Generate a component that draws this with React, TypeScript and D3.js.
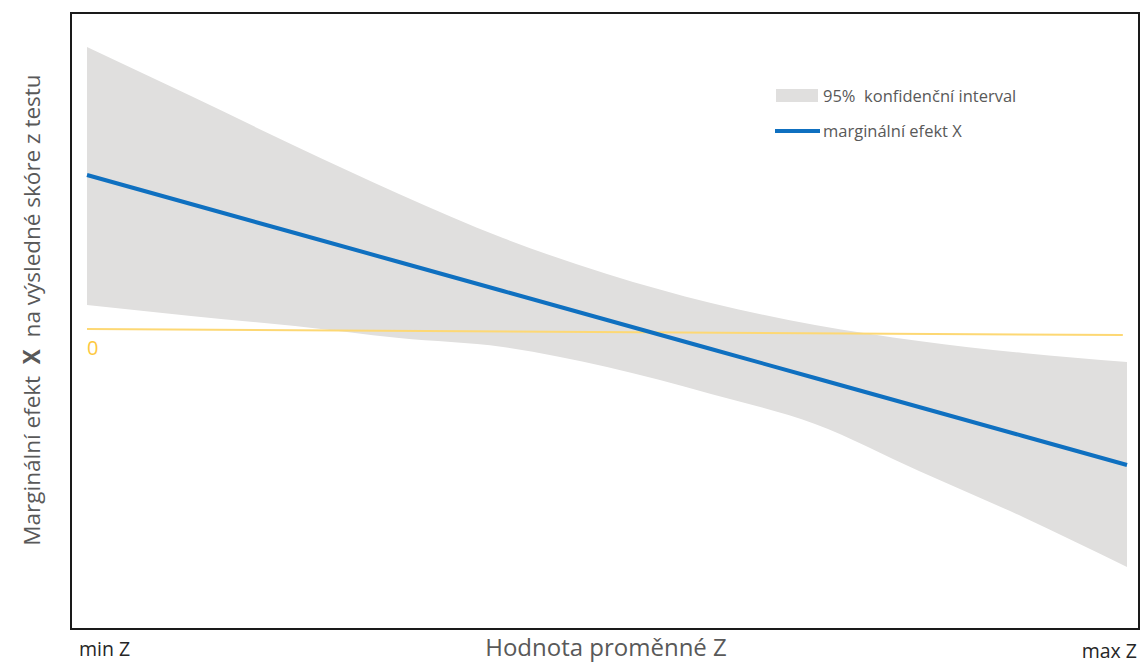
import React from "react";
import * as d3 from "d3";

// Z values (0 = min Z, 1 = max Z)
const zValues = [0, 0.1, 0.2, 0.3, 0.4, 0.5, 0.6, 0.7, 0.8, 0.9, 1.0];
// 95% confidence interval bounds
const ciUpper = [2.85, 2.36, 1.86, 1.38, 0.94, 0.58, 0.29, 0.07, -0.09, -0.21, -0.30];
const ciLower = [0.27, 0.16, 0.06, -0.06, -0.15, -0.35, -0.62, -0.92, -1.39, -1.85, -2.35];
// marginal effect of X
const marginalEffect = [1.57, 1.28, 0.99, 0.70, 0.41, 0.12, -0.17, -0.46, -0.75, -1.04, -1.33];
// zero reference line (as drawn, slightly tilted)
const zeroLineZ = [0, 0.996];
const zeroLineY = [0.03, -0.03];

const xTickLabels = ["min Z", "max Z"];
const xTitle = "Hodnota proměnné Z";
const legendLabels = ["95%\u00a0\u00a0konfidenční interval", "marginální efekt X"];

const W = 1141;
const H = 663;
const FONT = "'Open Sans', 'Noto Sans', sans-serif";

export default function App() {
  const x = d3.scaleLinear().domain([0, 1]).range([87, 1127]);
  const y = d3.scaleLinear().domain([-3, 3]).range([632, 32]);

  const rows = zValues.map((z, i) => ({ z, lo: ciLower[i], hi: ciUpper[i], m: marginalEffect[i] }));

  const area = d3
    .area<(typeof rows)[number]>()
    .x((d) => x(d.z))
    .y0((d) => y(d.lo))
    .y1((d) => y(d.hi))
    .curve(d3.curveMonotoneX);

  const line = d3
    .line<(typeof rows)[number]>()
    .x((d) => x(d.z))
    .y((d) => y(d.m));

  const zeroLine = d3
    .line<number>()
    .x((_, i) => x(zeroLineZ[i]))
    .y((d) => y(d));

  return (
    <svg
      width={W}
      height={H}
      style={{ position: "absolute", left: 0, top: 0, background: "#fff" }}
      fontFamily={FONT}
    >
      <rect x={0} y={0} width={W} height={H} fill="#fff" />
      {/* plot frame */}
      <rect x={71} y={13} width={1068} height={616} fill="none" stroke="#1a1a1a" strokeWidth={2} />

      <path d={area(rows) || ""} fill="#e0dfde" />
      <path d={zeroLine(zeroLineY) || ""} fill="none" stroke="#fdd874" strokeWidth={2} />
      <text x={87} y={355} fontSize={20} fill="#fdc83e">0</text>
      <path d={line(rows) || ""} fill="none" stroke="#0f70c0" strokeWidth={4} />

      {/* legend */}
      <rect x={776} y={89} width={42} height={13} fill="#e0dfde" />
      <text x={823} y={101.5} fontSize={16.5} fill="#595959">{legendLabels[0]}</text>
      <line x1={775} x2={820} y1={131} y2={131} stroke="#0f70c0" strokeWidth={4} />
      <text x={823} y={136.5} fontSize={16.5} fill="#595959">{legendLabels[1]}</text>

      {/* x labels */}
      <text x={79} y={656} fontSize={19.5} fill="#262626">{xTickLabels[0]}</text>
      <text x={1137} y={658} fontSize={19.5} fill="#262626" textAnchor="end">{xTickLabels[1]}</text>
      <text x={606} y={656} fontSize={24} fill="#595959" textAnchor="middle">{xTitle}</text>

      {/* y title */}
      <text
        transform="translate(40,310) rotate(-90)"
        fontSize={22.5}
        fill="#595959"
        textAnchor="middle"
      >
        Marginální efekt{"\u00a0\u00a0"}
        <tspan fontWeight="bold">X</tspan>
        {"\u00a0\u00a0"}na výsledné skóre z testu
      </text>
    </svg>
  );
}
